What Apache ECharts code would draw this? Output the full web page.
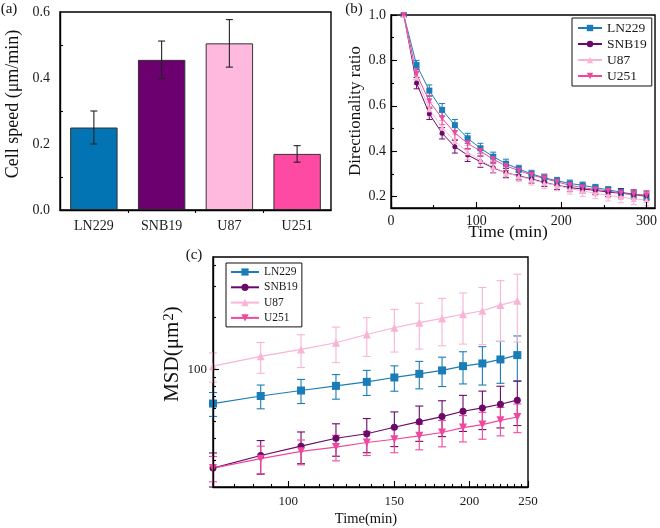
<!DOCTYPE html>
<html><head><meta charset="utf-8">
<script src="https://cdn.jsdelivr.net/npm/echarts@6/dist/echarts.min.js"></script>
<style>html,body{margin:0;padding:0;background:#fff}#c{width:660px;height:528px}</style>
</head><body><div id="c"></div>
<script>
// ---------- (a) Cell speed ----------
const categories = ['LN229', 'SNB19', 'U87', 'U251'];
const speed = [0.25, 0.455, 0.505, 0.17];
const speedErr = [0.05, 0.057, 0.072, 0.025];
const speedTicks = ['0.0', '0.2', '0.4', '0.6'];
const catBoundaries = [1, 2, 3];

// ---------- (b) Directionality ratio ----------
const timeB = [15, 30, 45, 60, 75, 90, 105, 120, 135, 150, 165, 180, 195, 210, 225, 240, 255, 270, 285, 300];
const drLN229 = [1.0, 0.78, 0.667, 0.582, 0.515, 0.457, 0.413, 0.376, 0.345, 0.322, 0.30, 0.283, 0.27, 0.258, 0.25, 0.24, 0.23, 0.22, 0.21, 0.2];
const drLN229Err = [0.005, 0.02, 0.025, 0.028, 0.025, 0.022, 0.022, 0.02, 0.02, 0.016, 0.016, 0.016, 0.015, 0.015, 0.014, 0.014, 0.014, 0.015, 0.015, 0.015];
const drSNB19 = [1.0, 0.70, 0.565, 0.479, 0.42, 0.383, 0.354, 0.327, 0.305, 0.292, 0.278, 0.263, 0.25, 0.24, 0.233, 0.228, 0.22, 0.215, 0.21, 0.205];
const drSNB19Err = [0.005, 0.025, 0.025, 0.025, 0.028, 0.028, 0.025, 0.022, 0.02, 0.018, 0.018, 0.018, 0.018, 0.018, 0.018, 0.018, 0.02, 0.02, 0.02, 0.02];
const drU87 = [1.0, 0.725, 0.585, 0.505, 0.445, 0.395, 0.36, 0.33, 0.305, 0.29, 0.275, 0.26, 0.25, 0.235, 0.225, 0.215, 0.205, 0.198, 0.19, 0.185];
const drU87Err = [0.005, 0.03, 0.03, 0.03, 0.03, 0.03, 0.028, 0.026, 0.025, 0.024, 0.024, 0.024, 0.024, 0.024, 0.024, 0.024, 0.024, 0.025, 0.025, 0.025];
const drU251 = [1.0, 0.74, 0.62, 0.545, 0.48, 0.435, 0.40, 0.365, 0.335, 0.315, 0.295, 0.28, 0.265, 0.25, 0.24, 0.232, 0.225, 0.215, 0.21, 0.205];
const drU251Err = [0.005, 0.025, 0.025, 0.028, 0.028, 0.025, 0.022, 0.02, 0.02, 0.018, 0.018, 0.018, 0.016, 0.016, 0.016, 0.016, 0.016, 0.016, 0.016, 0.016];
const timeBTicks = [0, 100, 200, 300];
const timeBMinor = [50, 150, 250];
const drTicks = [0.2, 0.4, 0.6, 0.8, 1.0];
const drMinor = [0.3, 0.5, 0.7, 0.9];

// ---------- (c) MSD ----------
const timeC = [75, 90, 105, 120, 135, 150, 165, 180, 195, 210, 225, 240];
const msdLN229 = [63.6, 70.3, 75.6, 80.4, 84.8, 89.9, 94.3, 98.7, 104.5, 108.3, 114.2, 121];
const msdLN229Err = [10, 11, 12, 13, 14, 15, 17, 19, 22, 27, 31, 35];
const msdSNB19 = [27.0, 31.9, 36.1, 40.1, 42.6, 46.4, 50, 53.5, 57.4, 60, 63, 66.5];
const msdSNB19Err = [6, 7, 7.5, 8.5, 9.5, 10.5, 11.5, 12.5, 13.5, 15, 17, 19];
const msdU87 = [104.5, 119, 130.5, 142.5, 159, 174, 186, 197, 208, 218, 235, 249];
const msdU87Err = [20, 24, 28, 33, 40, 48, 55, 60, 68, 79, 90, 105];
const msdU251 = [27, 30.6, 33.7, 35.7, 37.9, 39.6, 41.4, 43.3, 46.2, 48.1, 50.9, 53.2];
const msdU251Err = [4.5, 5.5, 5.5, 6, 6, 6.5, 7, 7.5, 8, 8.5, 9.5, 10];
const timeCTicks = [100, 150, 200, 250];
const timeCMinor = [75, 81.25, 87.5, 93.75, 106.25, 112.5, 118.75, 125, 131.25, 137.5, 143.75,
  156.25, 162.5, 168.75, 175, 181.25, 187.5, 193.75, 206.25, 212.5, 218.75, 225, 231.25, 237.5, 243.75];
const msdTicks = [100];
const msdMinor = [30, 40, 50, 60, 70, 80, 90, 200, 300, 400];

// ---------- styling ----------
const FF = 'Liberation Serif';
const COL = { LN229: '#1a7db8', SNB19: '#6a0a6a', U87: '#f8b4d5', U251: '#f0489c' };
const BAR_COL = ['#0274b3', '#6d006f', '#ffb9df', '#ff4aa4'];
const SYM = { LN229: ['rect', 0], SNB19: ['circle', 0], U87: ['triangle', 0], U251: ['triangle', 180] };
const names = ['LN229', 'SNB19', 'U87', 'U251'];

function zip(a, b) { return a.map((v, i) => [v, b[i]]); }
function errData(x, v, e) { return v.map((val, i) => [x[i], val - e[i], val + e[i]]); }

function errSeries(xi, yi, data, color, cap, lw) {
  return {
    type: 'custom', xAxisIndex: xi, yAxisIndex: yi, data: data, z: 1, silent: true,
    encode: { x: 0, y: [1, 2] },
    renderItem: function (params, api) {
      const x = api.value(0), lo = api.value(1), hi = api.value(2);
      const a = api.coord([x, hi]), b = api.coord([x, lo]);
      const st = { stroke: color, lineWidth: lw };
      return {
        type: 'group', children: [
          { type: 'line', shape: { x1: a[0], y1: a[1], x2: b[0], y2: b[1] }, style: st },
          { type: 'line', shape: { x1: a[0] - cap, y1: a[1], x2: a[0] + cap, y2: a[1] }, style: st },
          { type: 'line', shape: { x1: b[0] - cap, y1: b[1], x2: b[0] + cap, y2: b[1] }, style: st }
        ]
      };
    }
  };
}

const axLine = { show: true, lineStyle: { color: '#000', width: 1.4 } };
const lab = { color: '#1a1a1a', fontFamily: FF, fontSize: 14 };
const tickSt = { color: '#000', width: 1.1 };

function overlayAxis(type, gi, min, max, vals, len, inside) {
  return {
    type: type, gridIndex: gi, min: min, max: max, z: 10,
    axisLine: { show: false }, axisLabel: { show: false }, splitLine: { show: false },
    axisTick: { show: true, inside: inside !== false, length: len, customValues: vals, lineStyle: tickSt }
  };
}

const gA = { left: 60, top: 12, width: 271, height: 198 };
const gB = { left: 391, top: 15, width: 265, height: 193 };
const gC = { left: 213, top: 257, width: 315, height: 230 };
const frame = { show: true, borderColor: '#000', borderWidth: 1.4, backgroundColor: 'transparent' };

const series = [];
// (a)
series.push({
  type: 'bar', xAxisIndex: 0, yAxisIndex: 0, barWidth: '70%', z: 2,
  data: speed.map((v, i) => ({ value: v, itemStyle: { color: BAR_COL[i], borderColor: '#333', borderWidth: 1 } }))
});
series.push(Object.assign(errSeries(0, 0, speed.map((v, i) => [i, v - speedErr[i], v + speedErr[i]]), '#222', 3.5, 1.1), { z: 3 }));

// (b)
const bVals = { LN229: [drLN229, drLN229Err], SNB19: [drSNB19, drSNB19Err], U87: [drU87, drU87Err], U251: [drU251, drU251Err] };
names.forEach(n => {
  series.push({
    type: 'line', name: n, xAxisIndex: 2, yAxisIndex: 1, data: zip(timeB, bVals[n][0]),
    symbol: SYM[n][0], symbolRotate: SYM[n][1], symbolSize: n === 'SNB19' ? 5 : 6,
    itemStyle: { color: COL[n] }, lineStyle: { color: COL[n], width: 1 }, z: 3
  });
  series.push(errSeries(2, 1, errData(timeB, bVals[n][0], bVals[n][1]), COL[n], 3, 1));
});

// (c)
const cVals = { LN229: [msdLN229, msdLN229Err], SNB19: [msdSNB19, msdSNB19Err], U87: [msdU87, msdU87Err], U251: [msdU251, msdU251Err] };
names.forEach(n => {
  series.push({
    type: 'line', name: n, xAxisIndex: 3, yAxisIndex: 3, data: zip(timeC, cVals[n][0]),
    symbol: SYM[n][0], symbolRotate: SYM[n][1], symbolSize: n === 'SNB19' ? 7 : 8,
    itemStyle: { color: COL[n] }, lineStyle: { color: COL[n], width: 1.2 }, z: 3
  });
  series.push(errSeries(3, 3, errData(timeC, cVals[n][0], cVals[n][1]), COL[n], 4, 1.1));
});

const option = {
  animation: false,
  backgroundColor: '#fff',
  textStyle: { fontFamily: FF },
  grid: [
    Object.assign({}, gA, frame), Object.assign({}, gB, frame), Object.assign({}, gC, frame),
    Object.assign({ show: false }, gA), Object.assign({ show: false }, gB), Object.assign({ show: false }, gC)
  ],
  xAxis: [
    { type: 'category', gridIndex: 0, data: categories, z: 10, axisLine: axLine, splitLine: { show: false },
      axisTick: { inside: true, alignWithLabel: true, length: 6, lineStyle: tickSt },
      axisLabel: Object.assign({ margin: 9 }, lab) },
    overlayAxis('value', 3, 0, 4, catBoundaries, 3, false),
    { type: 'value', gridIndex: 1, min: 0, max: 310, z: 10, axisLine: axLine, splitLine: { show: false },
      axisTick: { inside: true, length: 6, customValues: timeBTicks, lineStyle: tickSt },
      axisLabel: Object.assign({ customValues: timeBTicks, margin: 6 }, lab) },
    { type: 'log', logBase: 10, gridIndex: 2, min: 75, max: 250, z: 10, axisLine: axLine, splitLine: { show: false },
      axisTick: { inside: true, length: 6, customValues: timeCTicks, lineStyle: tickSt },
      axisLabel: Object.assign({ customValues: timeCTicks, margin: 8 }, lab, { fontSize: 13 }) },
    overlayAxis('value', 4, 0, 310, timeBMinor, 3),
    overlayAxis('log', 5, 75, 250, timeCMinor, 3)
  ],
  yAxis: [
    { type: 'value', gridIndex: 0, min: 0, max: 0.6, interval: 0.2, z: 10, axisLine: axLine, splitLine: { show: false },
      axisTick: { inside: true, length: 6, lineStyle: tickSt },
      minorTick: { show: true, splitNumber: 2, length: 3, lineStyle: tickSt },
      axisLabel: Object.assign({ margin: 10, formatter: v => speedTicks[Math.round(v / 0.2)] }, lab) },
    { type: 'value', gridIndex: 1, min: 0.15, max: 1.0, z: 10, axisLine: axLine, splitLine: { show: false },
      axisTick: { inside: true, length: 6, customValues: drTicks, lineStyle: tickSt },
      axisLabel: Object.assign({ customValues: drTicks, margin: 5, formatter: v => v.toFixed(1) }, lab) },
    overlayAxis('value', 4, 0.15, 1.0, drMinor, 3),
    { type: 'log', logBase: 10, gridIndex: 2, min: 21, max: 445, z: 10, axisLine: axLine, splitLine: { show: false },
      axisTick: { inside: true, length: 6, customValues: msdTicks, lineStyle: tickSt },
      axisLabel: Object.assign({ customValues: msdTicks, margin: 6 }, lab, { fontSize: 13 }) },
    overlayAxis('log', 5, 21, 445, msdMinor, 3),
    overlayAxis('value', 3, 0, 0.6, [], 3)
  ],
  legend: [
    { data: names, orient: 'vertical', left: 572, top: 18, padding: [3, 5, 3, 5], itemGap: 2,
      itemWidth: 24, itemHeight: 8, borderColor: '#111', borderWidth: 1, borderRadius: 0, selectedMode: false,
      textStyle: { fontFamily: FF, fontSize: 13.5, lineHeight: 13, color: '#1a1a1a' } },
    { data: names, orient: 'vertical', left: 226, top: 263, padding: [3, 4, 3, 4], itemGap: 3.3,
      itemWidth: 28, itemHeight: 9, borderColor: '#111', borderWidth: 1, borderRadius: 0, selectedMode: false,
      textStyle: { fontFamily: FF, fontSize: 11.5, lineHeight: 12, color: '#1a1a1a' } }
  ],
  graphic: [
    { type: 'text', x: 9, y: 9, style: { text: '(a)', fontFamily: FF, fontSize: 15, fill: '#111', align: 'center', verticalAlign: 'middle' } },
    { type: 'text', x: 354, y: 9, style: { text: '(b)', fontFamily: FF, fontSize: 15, fill: '#111', align: 'center', verticalAlign: 'middle' } },
    { type: 'text', x: 194, y: 255, style: { text: '(c)', fontFamily: FF, fontSize: 15, fill: '#111', align: 'center', verticalAlign: 'middle' } },
    { type: 'text', x: 13, y: 104, rotation: Math.PI / 2, style: { text: 'Cell speed (μm/min)', fontFamily: FF, fontSize: 18, fill: '#111', align: 'center', verticalAlign: 'middle' } },
    { type: 'text', x: 356, y: 111, rotation: Math.PI / 2, style: { text: 'Directionality ratio', fontFamily: FF, fontSize: 17, fill: '#111', align: 'center', verticalAlign: 'middle' } },
    { type: 'text', x: 508, y: 232, style: { text: 'Time (min)', fontFamily: FF, fontSize: 17.5, fill: '#111', align: 'center', verticalAlign: 'middle' } },
    { type: 'text', x: 366, y: 519, style: { text: 'Time(min)', fontFamily: FF, fontSize: 14.5, fill: '#111', align: 'center', verticalAlign: 'middle' } },
    { type: 'text', x: 172, y: 354, rotation: Math.PI / 2, style: {
        text: '{a|MSD(μm}{s|2}{a|)}', align: 'center', verticalAlign: 'middle',
        rich: { a: { fontFamily: FF, fontSize: 21, fill: '#111' }, s: { fontFamily: FF, fontSize: 15, fill: '#111', verticalAlign: 'top', padding: [0, 0, 6, 1] } } } }
  ],
  series: series
};

const chart = echarts.init(document.getElementById('c'));
chart.setOption(option);
</script></body></html>
